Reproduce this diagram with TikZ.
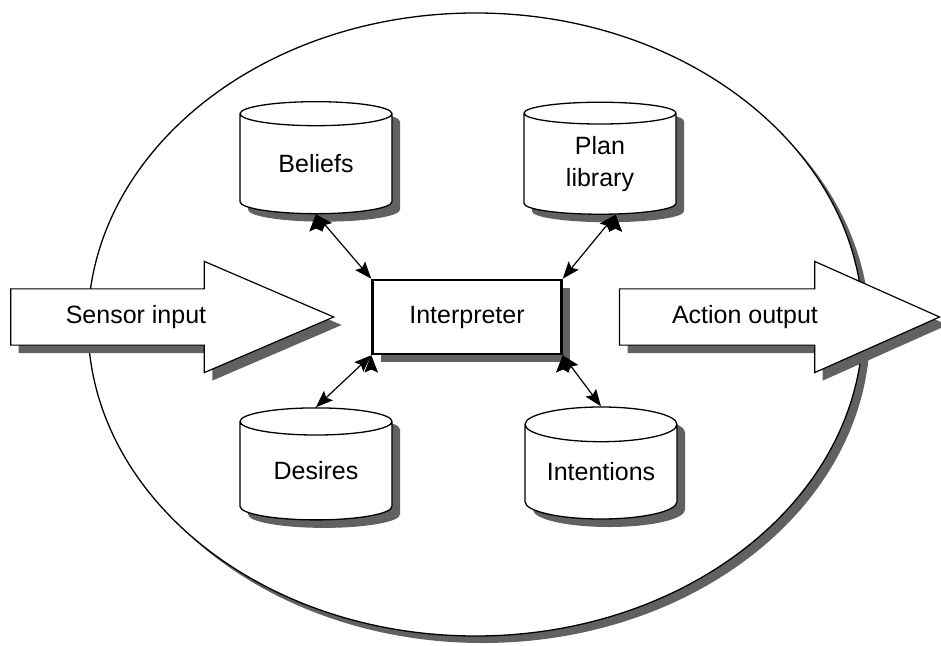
\documentclass[tikz,border=0pt]{standalone}
\usepackage{fontspec}
\setmainfont{Liberation Sans}
\usetikzlibrary{shapes.geometric,shapes.arrows,shadows,arrows.meta}

\tikzset{
    castshadow/.style={drop shadow={shadow xshift=4pt, shadow yshift=-4pt, fill=black!62, opacity=1}},
    store/.style={cylinder, shape border rotate=90, aspect=0.32, draw, fill=white, line width=0.65pt,
        minimum width=76pt, minimum height=56pt, inner sep=0pt, align=center, castshadow},
    bigarrow/.style={single arrow, draw, fill=white, line width=0.6pt, minimum width=55pt,
        single arrow head extend=13.75pt, inner xsep=0pt, inner ysep=13.75pt, castshadow},
    link/.style={{Stealth[length=8.5pt, width=6.5pt, inset=1.5pt]}-{Stealth[length=8.5pt, width=6.5pt, inset=1.5pt]}, line width=0.6pt}
}

\begin{document}
\begin{tikzpicture}[x=0.5pt, y=-0.5pt, font=\fontsize{12.5}{16}\selectfont]
    \useasboundingbox (0,0) rectangle (941,646);

    \node [ellipse, draw, fill=white, line width=0.65pt, minimum width=387.5pt, minimum height=311.5pt, inner sep=0pt,
        drop shadow={shadow xshift=3.5pt, shadow yshift=-3.5pt, fill=black!62, opacity=1}] (agent) at (475.5, 324.5) {};

    \node [store] (beliefs) at (316, 164) {Beliefs};
    \node [store] (plan) at (600, 164) {Plan\\library};
    \node [store] (desires) at (316, 471) {Desires};
    \node [store] (intentions) at (601, 472) {Intentions};
    \node [rectangle, draw, fill=white, line width=1.3pt, minimum width=94.5pt, minimum height=37pt, castshadow] (interpreter) at (467, 317) {Interpreter};
    \node [bigarrow, minimum height=161.5pt, single arrow tip angle=46.5, label={[xshift=-1.75pt]center:Sensor input}] (sensor) at (139.5, 317) {};
    \node [bigarrow, minimum height=160pt, single arrow tip angle=48, label={[xshift=-1.5pt]center:Action output}] (action) at (748, 317) {};

    \draw [link] (beliefs.south) edge (interpreter.north west);
    \draw [link] (plan.-73) edge (interpreter.north east);
    \draw [link] (interpreter.south west) edge (desires.north);
    \draw [link] (interpreter.south east) edge (intentions.north);
\end{tikzpicture}
\end{document}
